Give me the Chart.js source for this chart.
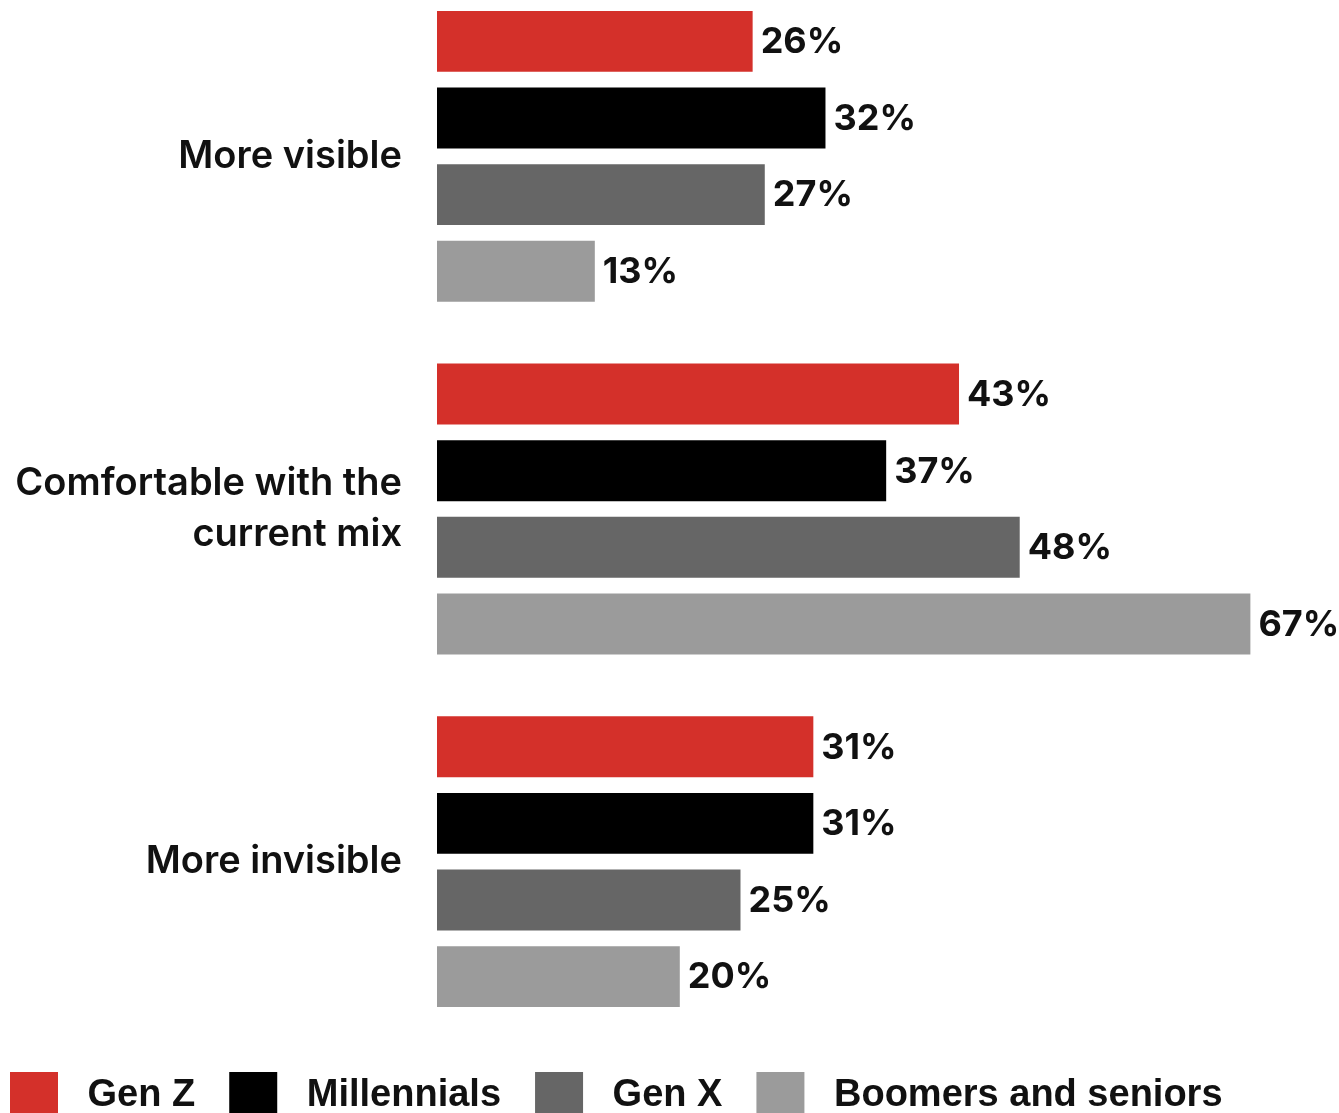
<!DOCTYPE html>
<html>
<head>
<meta charset="utf-8">
<script src="https://cdn.jsdelivr.net/npm/chart.js@4.4.1/dist/chart.umd.min.js"></script>
<style>
    html, body { margin: 0; padding: 0; background: #fff; overflow: hidden; }
    body { width: 1339px; height: 1113px; position: relative; }
    #wrap { position: absolute; left: -24px; top: -20px; width: 1363px; height: 1150px; }
</style>
</head>
<body>
<div id="wrap"><canvas id="chart"></canvas></div>
<script>
    // categories and series
    const categories = [ [ 'More visible' ], [ 'Comfortable with the', 'current mix' ], [ 'More invisible' ] ];
    const seriesNames = [ 'Gen Z', 'Millennials', 'Gen X', 'Boomers and seniors' ];
    const genZ = [ 26, 43, 31 ];
    const millennials = [ 32, 37, 31 ];
    const genX = [ 27, 48, 25 ];
    const boomers = [ 13, 67, 20 ];

    const colors = [ '#d4302a', '#000000', '#666666', '#9b9b9b' ];
    const seriesValues = [ genZ, millennials, genX, boomers ];

    const valueLabels = {
        id: 'valueLabels',
        afterDatasetsDraw ( chart )
        {
            const { ctx } = chart;
            ctx.save();
            ctx.font = '700 36px "Inter", sans-serif';
            ctx.fillStyle = '#111';
            ctx.textAlign = 'left';
            ctx.textBaseline = 'middle';
            chart.data.datasets.forEach( ( ds, i ) =>
            {
                chart.getDatasetMeta( i ).data.forEach( ( bar, j ) =>
                {
                    ctx.fillText( ds.data[ j ] + '%', bar.x + 8, bar.y + 1 );
                } );
            } );
            ctx.restore();
        }
    };

    new Chart( document.getElementById( 'chart' ), {
        type: 'bar',
        data: {
            labels: categories,
            datasets: seriesNames.map( ( name, i ) => ( {
                label: name,
                data: seriesValues[ i ],
                backgroundColor: colors[ i ],
                borderWidth: 0,
                categoryPercentage: 0.869,
                barPercentage: 0.795
            } ) )
        },
        options: {
            indexAxis: 'y',
            responsive: true,
            maintainAspectRatio: false,
            animation: false,
            layout: { padding: 0 },
            plugins: {
                tooltip: { enabled: false },
                legend: {
                    position: 'bottom',
                    align: 'start',
                    labels: {
                        boxWidth: 48,
                        boxHeight: 48,
                        padding: 34,
                        color: '#111',
                        font: { family: '"Liberation Sans", Arial, sans-serif', size: 38, weight: 'bold' },
                        generateLabels ( chart )
                        {
                            return chart.data.datasets.map( ( ds, i ) => ( {
                                text: ' ' + ds.label,
                                fillStyle: ds.backgroundColor,
                                strokeStyle: ds.backgroundColor,
                                lineWidth: 0,
                                fontColor: '#111',
                                datasetIndex: i
                            } ) );
                        }
                    }
                }
            },
            scales: {
                x: {
                    display: false,
                    min: 0,
                    max: 74.3
                },
                y: {
                    grid: { display: false, drawTicks: false },
                    border: { display: false },
                    ticks: {
                        padding: 35,
                        color: '#111',
                        font: { family: 'Inter', size: 38, weight: '600', lineHeight: 1.32 }
                    },
                    afterFit ( scale )
                    {
                        scale.width = 461;
                        scale.paddingTop = 0;
                        scale.paddingBottom = 0;
                    }
                }
            }
        },
        plugins: [ valueLabels ]
    } );
</script>
</body>
</html>
